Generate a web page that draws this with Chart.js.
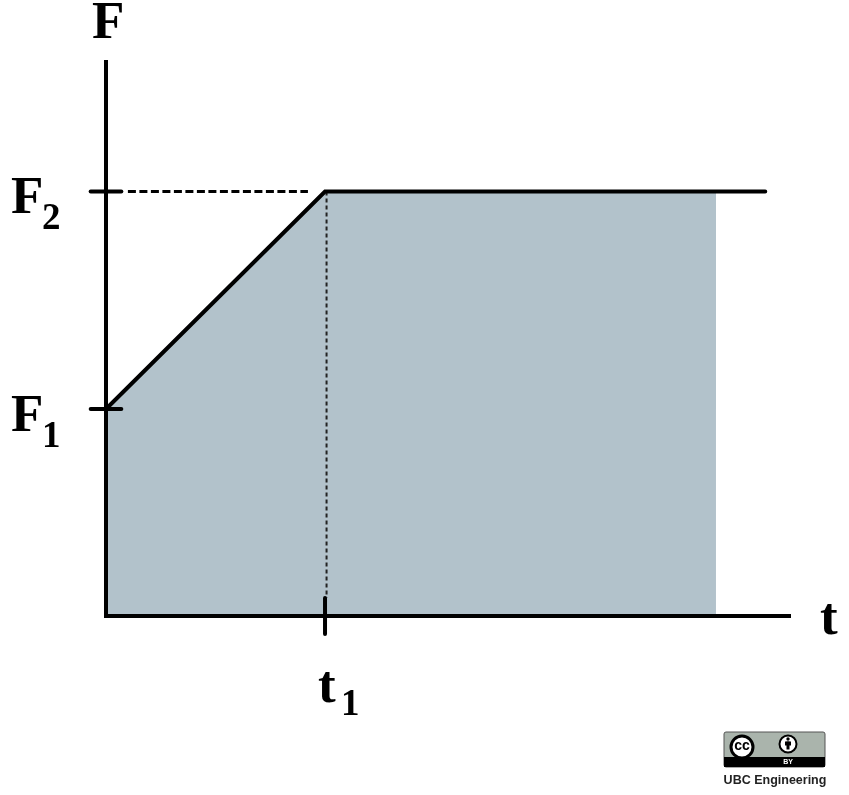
<!DOCTYPE html>
<html>
<head>
<meta charset="utf-8">
<title>F over t</title>
<script src="https://cdn.jsdelivr.net/npm/chart.js@4"></script>
<style>
  html, body { margin: 0; padding: 0; background: #fff; }
  canvas { display: block; }
</style>
</head>
<body>
<canvas id="myChart" width="849" height="795"></canvas>
<script>
// values in units of t1 and F1
var t1 = 1;
var F1 = 1;
var F2 = 2.05;
var tFillEnd = 2.785;
var tLineEnd = 3.01;
var tMax = 3.123;
var FMax = 2.676;
var tickHalfT = 0.07;
var tickHalfF = 0.087;

var curveT = [0, t1, tLineEnd];
var curveF = [F1, F2, F2];
var areaT = [0, t1, tFillEnd];
var areaF = [F1, F2, F2];
var dashT = [0.1, 0.922];
var dashF = [F2, F2];
var dropT = [1.007, 1.007];
var dropF = [F2, tickHalfF];

function pts(xs, ys) {
  return xs.map(function (x, i) { return { x: x, y: ys[i] }; });
}

function solidLine(xs, ys) {
  return {
    data: pts(xs, ys),
    showLine: true,
    borderColor: '#000',
    borderWidth: 4,
    borderCapStyle: 'round',
    pointRadius: 0,
    clip: false,
    order: 1
  };
}

// subscripted labels, placed from the scales
var labelsPlugin = {
  id: 'labels',
  afterDraw: function (chart) {
    var c = chart.ctx;
    var xs = chart.scales.x;
    var ys = chart.scales.y;
    var big = 'bold 53px "Liberation Serif"';
    var sub = 'bold 37px "Liberation Serif"';
    c.save();
    c.fillStyle = '#000';
    c.textAlign = 'left';
    c.textBaseline = 'alphabetic';

    c.font = big;
    c.fillText('F', 92, 38);
    c.fillText('t', xs.getPixelForValue(tMax) + 30, 634);
    c.fillText('F', 11, ys.getPixelForValue(F2) + 21);
    c.fillText('F', 11, ys.getPixelForValue(F1) + 22);
    c.fillText('t', xs.getPixelForValue(t1) - 7, 702);

    c.font = sub;
    c.fillText('2', 42, ys.getPixelForValue(F2) + 37);
    c.fillText('1', 42, ys.getPixelForValue(F1) + 38);
    c.fillText('1', xs.getPixelForValue(t1) + 16, 715);

    // licence badge
    c.fillStyle = '#aab4ac';
    c.strokeStyle = '#555';
    c.lineWidth = 1;
    c.beginPath();
    c.roundRect(724, 732, 101, 35, 2);
    c.fill();
    c.stroke();
    c.fillStyle = '#000';
    c.fillRect(724, 757, 101, 10);

    c.fillStyle = '#fff';
    c.strokeStyle = '#000';
    c.lineWidth = 3;
    c.beginPath();
    c.arc(742, 747, 11, 0, Math.PI * 2);
    c.fill();
    c.stroke();
    c.beginPath();
    c.arc(788, 744, 8.5, 0, Math.PI * 2);
    c.lineWidth = 2;
    c.fill();
    c.stroke();

    c.fillStyle = '#000';
    c.textAlign = 'center';
    c.textBaseline = 'middle';
    c.font = 'bold 14px "Liberation Sans"';
    c.fillText('cc', 742, 746);
    c.beginPath();
    c.arc(788, 739, 1.7, 0, Math.PI * 2);
    c.fill();
    c.fillRect(785, 741.5, 6, 4);
    c.fillRect(786.5, 741.5, 3, 8);

    c.fillStyle = '#fff';
    c.font = 'bold 7px "Liberation Sans"';
    c.fillText('BY', 788, 762.5);

    c.fillStyle = '#222';
    c.font = 'bold 12.5px "Liberation Sans"';
    c.fillText('UBC Engineering', 775, 781);
    c.restore();
  }
};

var ctx = document.getElementById('myChart').getContext('2d');
var myChart = new Chart(ctx, {
  type: 'scatter',
  data: {
    datasets: [
      solidLine(curveT, curveF),
      solidLine([-tickHalfT, tickHalfT], [F2, F2]),
      solidLine([-tickHalfT, tickHalfT], [F1, F1]),
      solidLine([t1, t1], [-tickHalfF, tickHalfF]),
      {
        data: pts(dashT, dashF),
        showLine: true,
        borderColor: '#000',
        borderWidth: 3,
        borderDash: [8, 3.5],
        pointRadius: 0,
        order: 2
      },
      {
        data: pts(dropT, dropF),
        showLine: true,
        borderColor: '#222',
        borderWidth: 2,
        borderDash: [4, 3],
        pointRadius: 0,
        order: 2
      },
      {
        // shaded area under the curve
        data: pts(areaT, areaF),
        showLine: true,
        borderWidth: 0,
        borderColor: 'transparent',
        backgroundColor: '#b2c2cb',
        fill: 'origin',
        pointRadius: 0,
        order: 3
      }
    ]
  },
  options: {
    responsive: false,
    animation: false,
    layout: { padding: { left: 98, right: 59, top: 62, bottom: 171 } },
    plugins: { legend: { display: false }, tooltip: { enabled: false } },
    scales: {
      x: {
        type: 'linear',
        min: 0,
        max: tMax,
        grid: { display: false },
        border: { display: true, color: '#000', width: 4, z: 1 },
        ticks: { display: false }
      },
      y: {
        type: 'linear',
        min: 0,
        max: FMax,
        grid: { display: false },
        border: { display: true, color: '#000', width: 4, z: 1 },
        ticks: { display: false }
      }
    }
  },
  plugins: [labelsPlugin]
});
</script>
</body>
</html>
